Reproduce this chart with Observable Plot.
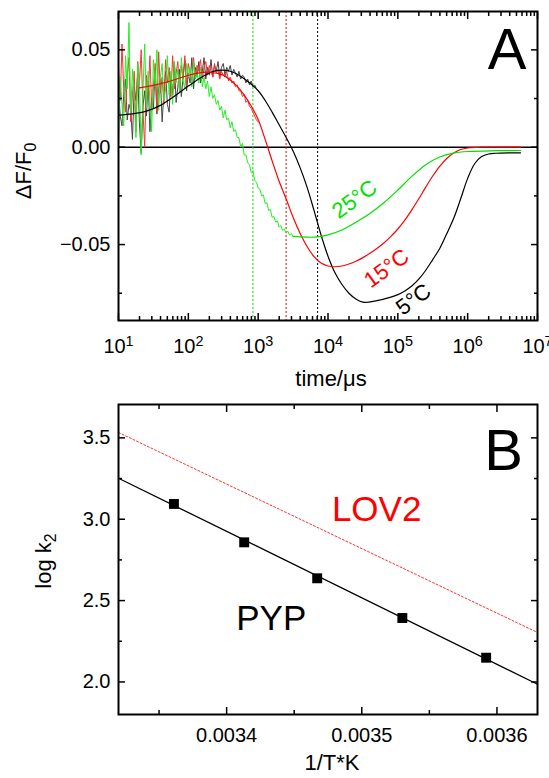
<!DOCTYPE html>
<html>
<head>
<meta charset="utf-8">
<script src="https://cdn.jsdelivr.net/npm/d3@7"></script>
<script src="https://cdn.jsdelivr.net/npm/@observablehq/plot@0.6"></script>
<style>
  html, body { margin: 0; padding: 0; background: #fff; }
  #chart { width: 549px; height: 778px; position: relative; font-family: "Liberation Sans", Arial, sans-serif; }
  #chart svg { display: block; }
</style>
</head>
<body>
<div id="chart"></div>
<script>
// ---------- Panel A: fluorescence transients ΔF/F0 vs time (µs) ----------
// Noisy early part of each trace, sampled every 0.025 decade from 10 µs.
const noisyStartLog = 1.0;
const noisyStepLog = 0.025;

const noisy5C = [
  0.030, 0.016, 0.011, 0.027, 0.035, 0.014, 0.022, 0.019, 0.004, 0.031,
  0.024, 0.038, 0.012, -0.003, 0.021, 0.029, 0.016, 0.034, 0.008, 0.025,
  0.020, 0.041, 0.017, 0.030, 0.035, 0.013, 0.028, 0.039, 0.022, 0.018,
  0.036, 0.027, 0.044, 0.023, 0.031, 0.040, 0.026, 0.036, 0.045, 0.029,
  0.038, 0.033, 0.046, 0.030, 0.041, 0.036, 0.044, 0.033, 0.039, 0.046,
  0.035, 0.041, 0.037, 0.045, 0.036, 0.042, 0.039, 0.044, 0.036, 0.041,
  0.043, 0.037, 0.041, 0.039, 0.042, 0.037, 0.040, 0.038, 0.036, 0.039,
  0.035, 0.037, 0.036, 0.033, 0.035, 0.032, 0.034, 0.031, 0.032, 0.030,
  0.029
];

const noisy15C = [
  0.041, 0.024, 0.053, 0.030, 0.018, 0.036, 0.046, 0.013, 0.027, 0.039,
  0.008, 0.044, 0.033, 0.050, 0.019, 0.000, 0.037, 0.026, 0.047, 0.021,
  0.031, 0.043, 0.018, 0.049, 0.028, 0.036, 0.022, 0.045, 0.033, 0.041,
  0.026, 0.047, 0.030, 0.038, 0.044, 0.029, 0.042, 0.035, 0.047, 0.031,
  0.043, 0.038, 0.034, 0.046, 0.036, 0.042, 0.039, 0.045, 0.035, 0.041,
  0.044, 0.037, 0.042, 0.039, 0.036, 0.043, 0.038, 0.040, 0.035, 0.039,
  0.037, 0.036, 0.039, 0.034, 0.036, 0.033, 0.034, 0.031, 0.032, 0.029,
  0.029, 0.026, 0.027, 0.023, 0.024, 0.021, 0.020, 0.018, 0.016, 0.014,
  0.013
];

const noisy25C = [
  0.000, 0.036, 0.022, 0.011, 0.047, 0.030, 0.064, 0.017, 0.040, 0.027,
  0.005, 0.043, 0.034, -0.004, 0.029, 0.053, 0.020, 0.039, 0.024, 0.008,
  0.045, 0.031, 0.050, 0.019, 0.036, 0.043, 0.024, 0.030, 0.047, 0.027,
  0.039, 0.022, 0.044, 0.033, 0.040, 0.028, 0.046, 0.034, 0.030, 0.043,
  0.036, 0.041, 0.031, 0.044, 0.035, 0.038, 0.033, 0.041, 0.031, 0.036,
  0.030, 0.034, 0.026, 0.031, 0.025, 0.027, 0.022, 0.024, 0.019, 0.021,
  0.015, 0.019, 0.014, 0.015, 0.010, 0.013, 0.008, 0.009, 0.005, 0.005,
  0.000, 0.002, -0.004, -0.004, -0.008, -0.009, -0.013, -0.012, -0.017, -0.018,
  -0.021, -0.0215, -0.0250, -0.0245, -0.0290, -0.0285, -0.0325, -0.0320, -0.0360, -0.0355,
  -0.0385, -0.0378, -0.0410, -0.0402, -0.0428, -0.0420, -0.0442, -0.0432, -0.0452, -0.0443,
  -0.0458
];

// Fitted curves: log10(time/µs) and ΔF/F0
const fit5CLogT = [1.0, 1.2, 1.4, 1.6, 1.8, 2.0, 2.2, 2.4, 2.6, 2.8, 3.0, 3.1, 3.2, 3.3, 3.4, 3.5, 3.6, 3.7, 3.8, 3.9,
  4.0, 4.1, 4.2, 4.3, 4.4, 4.5, 4.7, 4.9, 5.0, 5.1, 5.2, 5.3, 5.4, 5.5, 5.6, 5.7, 5.8, 5.9, 6.0, 6.1,
  6.2, 6.3, 6.4, 6.6, 6.757];
const fit5C = [0.0165, 0.0171, 0.0185, 0.0215, 0.0262, 0.0314, 0.0362, 0.0393, 0.0390, 0.0352, 0.0290, 0.0240, 0.0180, 0.0115, 0.0050, -0.0020, -0.0105, -0.0205, -0.0325, -0.0450,
  -0.0560, -0.0645, -0.0705, -0.0750, -0.0780, -0.0796, -0.0788, -0.0770, -0.0757, -0.0738, -0.0713, -0.0678, -0.0632, -0.0577, -0.0520, -0.0445, -0.0365, -0.0265, -0.0160, -0.0085,
  -0.0048, -0.0035, -0.0031, -0.0029, -0.0029];

const fit15CLogT = [1.3, 1.5, 1.7, 1.9, 2.1, 2.3, 2.5, 2.6, 2.7, 2.8, 2.9, 3.0, 3.1, 3.2, 3.3, 3.4, 3.5, 3.6, 3.7, 3.8,
  3.9, 4.0, 4.1, 4.2, 4.3, 4.4, 4.5, 4.6, 4.7, 4.8, 4.9, 5.0, 5.1, 5.2, 5.3, 5.4, 5.5, 5.6, 5.7, 5.8,
  5.9, 6.0, 6.2, 6.757];
const fit15C = [0.0305, 0.0318, 0.0335, 0.0358, 0.0378, 0.0385, 0.0370, 0.0345, 0.0312, 0.0268, 0.0212, 0.0142, 0.0040, -0.0070, -0.0175, -0.0265, -0.0360, -0.0442, -0.0510, -0.0562,
  -0.0595, -0.0610, -0.0614, -0.0610, -0.0600, -0.0586, -0.0567, -0.0545, -0.0520, -0.0492, -0.0458, -0.0420, -0.0375, -0.0322, -0.0265, -0.0205, -0.0148, -0.0098, -0.0058, -0.0030,
  -0.0012, -0.0004, 0.0000, 0.0000];

const fit25CLogT = [3.5, 3.6, 3.7, 3.8, 3.9, 4.0, 4.2, 4.4, 4.6, 4.8, 5.0, 5.2, 5.4, 5.6, 5.8, 6.0, 6.4, 6.757];
const fit25C = [-0.0458, -0.0460, -0.0462, -0.0462, -0.0458, -0.0450, -0.0425, -0.0385, -0.0340, -0.0285, -0.0220, -0.0150, -0.0090, -0.0050, -0.0030, -0.0022, -0.0018, -0.0017];

// Dotted markers (µs) and curve labels
const markerTimes = [841, 2512, 7100];
const markerColors = ["#00dd00", "#ee0000", "#000000"];
const curveLabels = ["25°C", "15°C", "5°C"];
const curveLabelTimes = [24000, 68900, 168000];
const curveLabelValues = [-0.0268, -0.0623, -0.0782];
const curveColors = ["#00e000", "#ff0000", "#000000"];

// Axis ticks, panel A
const xMajorA = [1e1, 1e2, 1e3, 1e4, 1e5, 1e6, 1e7];
const xMinorA = d3.range(1, 7).flatMap(e => [2, 3, 4, 5, 6, 7, 8, 9].map(m => m * 10 ** e));
const yMajorA = [-0.05, 0, 0.05];
const yMinorA = [-0.075, -0.025, 0.025];

// ---------- Panel B: Arrhenius plot ----------
const invT = [0.003361, 0.003413, 0.003467, 0.003530, 0.003592];
const logK2 = [3.094, 2.858, 2.637, 2.393, 2.149];
const fitInvT = [0.00332, 0.00363];
const pypFit = [3.252, 1.986];
const lov2Fit = [3.533, 2.304];

const xMajorB = [0.0034, 0.0035, 0.0036];
const xMinorB = [0.00335, 0.00345, 0.00355];
const yMajorB = [2.0, 2.5, 3.0, 3.5];
const yMinorB = [2.25, 2.75, 3.25];

// ---------- build rows ----------
const noisyRows = vals => vals.map((v, i) => ({t: 10 ** (noisyStartLog + i * noisyStepLog), v}));
const fitRows = (logs, vals) => logs.map((lt, i) => ({t: 10 ** lt, v: vals[i]}));

const font = '"Liberation Sans", Arial, sans-serif';
const chart = document.getElementById("chart");

function axesFor(xMajor, xMinor, yMajor, yMinor, xFmt, yFmt, xPad) {
  return [
    Plot.axisX(xMajor, {anchor: "bottom", tickSize: -7, tickPadding: xPad, tickFormat: xFmt, label: null, strokeWidth: 1.5}),
    Plot.axisX(xMinor, {anchor: "bottom", tickSize: -4, tickFormat: () => "", label: null, strokeWidth: 1.5}),
    Plot.axisX(xMajor, {anchor: "top", tickSize: -7, tickFormat: () => "", label: null, strokeWidth: 1.5}),
    Plot.axisX(xMinor, {anchor: "top", tickSize: -4, tickFormat: () => "", label: null, strokeWidth: 1.5}),
    Plot.axisY(yMajor, {anchor: "left", tickSize: -7, tickPadding: 15, tickFormat: yFmt, label: null, strokeWidth: 1.5}),
    Plot.axisY(yMinor, {anchor: "left", tickSize: -4, tickFormat: () => "", label: null, strokeWidth: 1.5}),
    Plot.axisY(yMajor, {anchor: "right", tickSize: -7, tickFormat: () => "", label: null, strokeWidth: 1.5}),
    Plot.axisY(yMinor, {anchor: "right", tickSize: -4, tickFormat: () => "", label: null, strokeWidth: 1.5})
  ];
}

// Panel A
const plotA = Plot.plot({
  width: 549, height: 395,
  marginLeft: 118, marginRight: 12, marginTop: 11, marginBottom: 75,
  style: {fontFamily: font, fontSize: "20px", color: "#000", background: "#fff", overflow: "visible"},
  x: {type: "log", domain: [10, 1e7]},
  y: {domain: [-0.089, 0.0697]},
  marks: [
    Plot.ruleY([0], {stroke: "#000", strokeWidth: 1.6}),
    ...markerTimes.map((t, i) => Plot.ruleX([t], {stroke: markerColors[i], strokeWidth: 1, strokeDasharray: "2,2"})),
    Plot.line(noisyRows(noisy5C), {x: "t", y: "v", stroke: "#444", strokeWidth: 1}),
    Plot.line(noisyRows(noisy15C), {x: "t", y: "v", stroke: "#ff3030", strokeWidth: 1}),
    Plot.line(noisyRows(noisy25C), {x: "t", y: "v", stroke: "#22f022", strokeWidth: 1}),
    Plot.line(fitRows(fit5CLogT, fit5C), {x: "t", y: "v", stroke: "#000", strokeWidth: 1.2, curve: "catmull-rom"}),
    Plot.line(fitRows(fit15CLogT, fit15C), {x: "t", y: "v", stroke: "#ff0000", strokeWidth: 1.2, curve: "catmull-rom"}),
    Plot.line(fitRows(fit25CLogT, fit25C), {x: "t", y: "v", stroke: "#00e000", strokeWidth: 1.2, curve: "catmull-rom"}),
    ...curveLabels.map((s, i) => Plot.text([s], {x: () => curveLabelTimes[i], y: () => curveLabelValues[i], text: d => d, rotate: -36, fill: curveColors[i], fontSize: 22})),
    Plot.text(["A"], {x: () => 3.68e6, y: () => 0.0498, text: d => d, fontSize: 58, fill: "#000"}),
    ...axesFor(xMajorA, xMinorA, yMajorA, yMinorA,
      d => `10^${Math.round(Math.log10(d))}`,
      d => d3.format(".2f")(d), 25),
    Plot.frame({stroke: "#000", strokeWidth: 2})
  ]
});

// Panel B
const pointsB = invT.map((x, i) => ({x, y: logK2[i]}));
const pypRows = fitInvT.map((x, i) => ({x, y: pypFit[i]}));
const lovRows = fitInvT.map((x, i) => ({x, y: lov2Fit[i]}));

const plotB = Plot.plot({
  width: 549, height: 383,
  marginLeft: 118, marginRight: 12, marginTop: 9, marginBottom: 64,
  style: {fontFamily: font, fontSize: "20px", color: "#000", background: "#fff", overflow: "visible"},
  x: {domain: [0.00332, 0.00363]},
  y: {domain: [1.8, 3.705]},
  marks: [
    Plot.line(lovRows, {x: "x", y: "y", stroke: "#ff3030", strokeWidth: 1, strokeDasharray: "2,2"}),
    Plot.line(pypRows, {x: "x", y: "y", stroke: "#000", strokeWidth: 1.3}),
    Plot.dot(pointsB, {x: "x", y: "y", symbol: "square", r: 5.6, fill: "#000", stroke: "none"}),
    Plot.text(["LOV2"], {x: () => 0.003511, y: () => 3.06, text: d => d, fontSize: 35, fill: "#ff0000"}),
    Plot.text(["PYP"], {x: () => 0.003433, y: () => 2.389, text: d => d, fontSize: 35, fill: "#000"}),
    Plot.text(["B"], {x: () => 0.003605, y: () => 3.419, text: d => d, fontSize: 58, fill: "#000"}),
    ...axesFor(xMajorB, xMinorB, yMajorB, yMinorB,
      d => d3.format(".4f")(d),
      d => d3.format(".1f")(d), 20),
    Plot.frame({stroke: "#000", strokeWidth: 2})
  ]
});

chart.append(plotA, plotB);

// Powers of ten as superscripts on the log axis
d3.select(plotA).selectAll('g[aria-label="x-axis tick label"] text').each(function () {
  const s = this.textContent;
  if (!s.includes("^")) return;
  const [base, exp] = s.split("^");
  const t = d3.select(this);
  t.text(null);
  t.append("tspan").text(base);
  t.append("tspan").attr("dy", "-0.5em").attr("font-size", "0.72em").text(exp);
});

// Axis titles
function yTitle(svg, x, y, main, sub) {
  const t = d3.select(svg).append("text")
    .attr("transform", `translate(${x},${y}) rotate(-90)`)
    .attr("text-anchor", "middle")
    .attr("font-size", 22)
    .attr("fill", "#000");
  t.append("tspan").text(main);
  t.append("tspan").attr("dy", "0.3em").attr("font-size", "0.72em").text(sub);
}
function xTitle(svg, x, y, s) {
  d3.select(svg).append("text")
    .attr("x", x).attr("y", y)
    .attr("text-anchor", "middle")
    .attr("font-size", 22)
    .attr("fill", "#000")
    .text(s);
}
yTitle(plotA, 31, 171, "ΔF/F", "0");
xTitle(plotA, 331, 386, "time/μs");
yTitle(plotB, 51, 561 - 395, "log k", "2");
xTitle(plotB, 332, 770 - 395, "1/T*K");
</script>
</body>
</html>
